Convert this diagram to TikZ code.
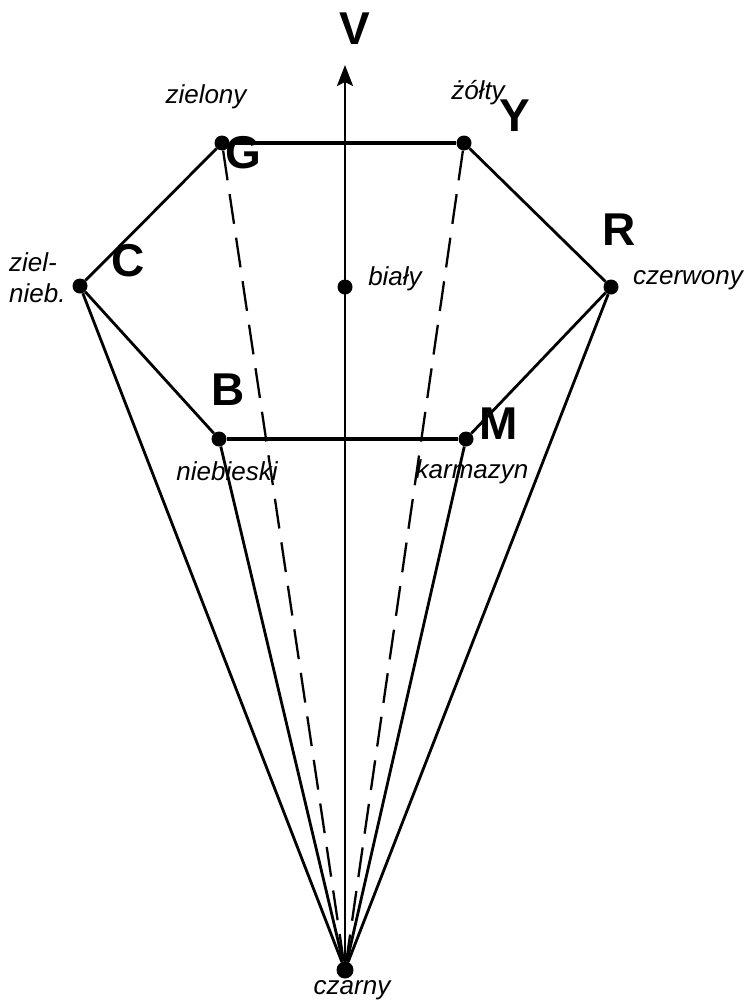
\documentclass[tikz,border=0pt]{standalone}
\usepackage{fontspec}
\setmainfont{Liberation Sans}
\usetikzlibrary{arrows.meta}

\begin{document}
\begin{tikzpicture}[x=1pt, y=-1pt,
    pkt/.style={circle, fill=black, inner sep=0pt, minimum size=15pt},
    ltr/.style={font=\fontsize{46}{50}\selectfont\bfseries, inner sep=0pt},
    lbl/.style={font=\fontsize{26}{31}\selectfont\itshape, inner sep=0pt},
    bok/.style={line width=2.8pt},
    gruby/.style={line width=3.8pt},
    kres/.style={line width=2.3pt, dash pattern=on 30pt off 14pt},
    os/.style={-{Stealth[length=21pt, width=16pt, inset=4pt]}, line width=2.6pt}
  ]
    \useasboundingbox (0,0) rectangle (751,1004);

    % wierzcholki szesciokata
    \node[pkt] (g) at (222,143) {};
    \node[pkt] (y) at (464,143) {};
    \node[pkt] (c) at (80,286) {};
    \node[pkt] (r) at (611,287) {};
    \node[pkt] (b) at (219,439) {};
    \node[pkt] (m) at (466,439) {};
    \node[pkt] (w) at (345,287) {};
    \node[pkt, minimum size=17pt] (k) at (345,970) {};
    \coordinate (vtip) at (345,65);

    \draw[gruby] (g) -- (y);
    \draw[gruby] (b) -- (m);
    \draw[bok] (y) -- (r);
    \draw[bok] (r) -- (m);
    \draw[bok] (b) -- (c);
    \draw[bok] (c) -- (g);

    \draw[bok] (c) -- (k);
    \draw[bok] (b) -- (k);
    \draw[bok] (m) -- (k);
    \draw[bok] (r) -- (k);
    \draw[kres] (g) -- (k);
    \draw[kres] (y) -- (k);
    \draw[os] (k.center) -- (vtip);

    % opisy
    \node[ltr] at (355,29) {V};
    \node[lbl] at (206,97) {zielony};
    \node[lbl] at (478,93) {żółty};
    \node[ltr] at (515,116) {Y};
    \node[ltr] at (243,153) {G};
    \node[ltr] at (128,261) {C};
    \node[ltr] at (619,230) {R};
    \node[lbl] at (688,280) {czerwony};
    \node[lbl] at (395,279) {biały};
    \node[lbl, align=left, anchor=west] at (9,278) {ziel-\\nieb.};
    \node[ltr] at (228,390) {B};
    \node[ltr] at (499,424) {M};
    \node[lbl] at (227,471) {niebieski};
    \node[lbl] at (472,472) {karmazyn};
    \node[lbl] at (352,990) {czarny};
  \end{tikzpicture}
\end{document}
